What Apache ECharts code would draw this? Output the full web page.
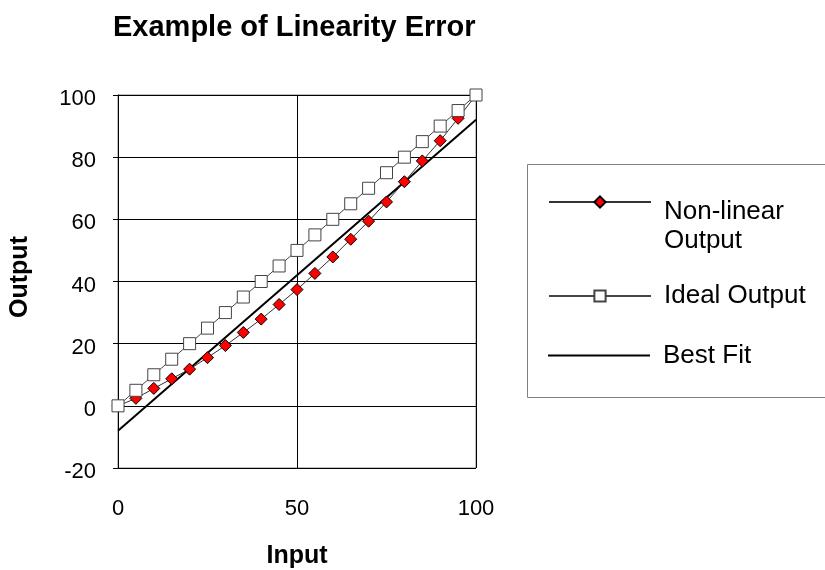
<!DOCTYPE html>
<html>
<head>
<meta charset="utf-8">
<script src="https://cdn.jsdelivr.net/npm/echarts@6/dist/echarts.min.js"></script>
<style>
  html, body { margin: 0; padding: 0; background: #fff; }
  #chart { width: 825px; height: 570px; }
</style>
</head>
<body>
<div id="chart"></div>
<script>
// data
var inputValues = [0, 5, 10, 15, 20, 25, 30, 35, 40, 45, 50, 55, 60, 65, 70, 75, 80, 85, 90, 95, 100];
var nonLinearOutput = [0, 2.4, 5.6, 8.7, 11.8, 15.5, 19.4, 23.6, 27.9, 32.6, 37.4, 42.6, 47.9, 53.6, 59.4, 65.6, 72.1, 78.8, 85.3, 92.5, 100];
var idealOutput = [0, 5, 10, 15, 20, 25, 30, 35, 40, 45, 50, 55, 60, 65, 70, 75, 80, 85, 90, 95, 100];
var bestFitX = [0, 100];
var bestFitY = [-8, 92];
var seriesNames = ['Non-linear Output', 'Ideal Output', 'Best Fit'];

function pairs(xs, ys) {
    var out = [];
    for (var i = 0; i < xs.length; i++) {
        out.push([xs[i], ys[i]]);
    }
    return out;
}

var font = 'Liberation Sans, Arial, sans-serif';
var chart = echarts.init(document.getElementById('chart'));

var option = {
    animation: false,
    backgroundColor: '#fff',
    title: {
        text: 'Example of Linearity Error',
        left: 113,
        top: 13,
        padding: 0,
        textStyle: { fontFamily: font, fontSize: 29, fontWeight: 'bold', color: '#000' }
    },
    grid: {
        left: 118,
        top: 95,
        right: 349,
        bottom: 102,
        outerBoundsMode: 'none',
        containLabel: false,
        show: true,
        borderColor: '#808080',
        borderWidth: 1
    },
    xAxis: {
        type: 'value',
        min: 0,
        max: 100,
        interval: 50,
        name: 'Input',
        nameLocation: 'middle',
        nameGap: 76,
        nameTextStyle: { fontFamily: font, fontSize: 25, fontWeight: 'bold', color: '#000' },
        axisLine: { show: true, lineStyle: { color: '#000', width: 1 } },
        axisTick: { show: false },
        axisLabel: { margin: 30, fontFamily: font, fontSize: 22, color: '#000' },
        splitLine: { show: true, lineStyle: { color: '#000', width: 1 } }
    },
    yAxis: {
        type: 'value',
        min: -20,
        max: 100,
        interval: 20,
        name: 'Output',
        nameLocation: 'middle',
        nameGap: 85,
        nameTextStyle: { fontFamily: font, fontSize: 25, fontWeight: 'bold', color: '#000', padding: [0, 0, 0, 9] },
        axisLine: { show: true, lineStyle: { color: '#000', width: 1 } },
        axisTick: { show: true, inside: false, length: 5, lineStyle: { color: '#000' } },
        axisLabel: {
            margin: 22,
            formatter: function (v) { return '{s| }\n{v|' + v + '}'; },
            rich: {
                s: { fontSize: 6, lineHeight: 8 },
                v: { fontFamily: font, fontSize: 22, lineHeight: 22, color: '#000' }
            }
        },
        splitLine: { show: true, lineStyle: { color: '#000', width: 1 } }
    },
    graphic: [{
        type: 'rect',
        shape: { x: 527.5, y: 164.5, width: 320, height: 233 },
        style: { fill: 'none', stroke: '#808080', lineWidth: 1 },
        silent: true
    }],
    legend: [{
        data: [seriesNames[0]],
        left: 548,
        top: 168,
        padding: 0,
        itemWidth: 102,
        itemHeight: 14,
        selectedMode: false,
        formatter: function () { return '{s| }\n{a|Non-linear}\n{a|Output}'; },
        textStyle: {
            fontFamily: font, fontSize: 26, color: '#000', padding: [0, 0, 0, 8],
            rich: {
                s: { fontSize: 10, lineHeight: 49 },
                a: { fontFamily: font, fontSize: 26, lineHeight: 29, color: '#000' }
            }
        }
    }, {
        data: [seriesNames[1]],
        left: 548,
        top: 281.5,
        padding: 0,
        itemWidth: 102,
        itemHeight: 14,
        selectedMode: false,
        textStyle: { fontFamily: font, fontSize: 26, lineHeight: 29, color: '#000', padding: [0, 0, 0, 8] }
    }, {
        data: [{ name: seriesNames[2], icon: 'rect' }],
        left: 548,
        top: 341,
        padding: 0,
        itemWidth: 102,
        itemHeight: 2,
        selectedMode: false,
        textStyle: { fontFamily: font, fontSize: 26, lineHeight: 29, color: '#000', padding: [0, 0, 0, 8] }
    }],
    series: [{
        name: seriesNames[0],
        type: 'line',
        z: 3,
        clip: false,
        data: pairs(inputValues, nonLinearOutput),
        symbol: 'diamond',
        symbolSize: 12,
        itemStyle: { color: '#ff0000', borderColor: '#000', borderWidth: 1 },
        lineStyle: { color: '#333', width: 1 }
    }, {
        name: seriesNames[1],
        type: 'line',
        z: 4,
        clip: false,
        data: pairs(inputValues, idealOutput),
        symbol: 'rect',
        symbolSize: 12,
        itemStyle: { color: '#fff', borderColor: '#444', borderWidth: 1 },
        lineStyle: { color: '#444', width: 1 }
    }, {
        name: seriesNames[2],
        type: 'line',
        z: 2,
        clip: false,
        data: pairs(bestFitX, bestFitY),
        symbol: 'none',
        itemStyle: { color: '#000' },
        lineStyle: { color: '#000', width: 2 }
    }]
};

chart.setOption(option);
</script>
</body>
</html>
